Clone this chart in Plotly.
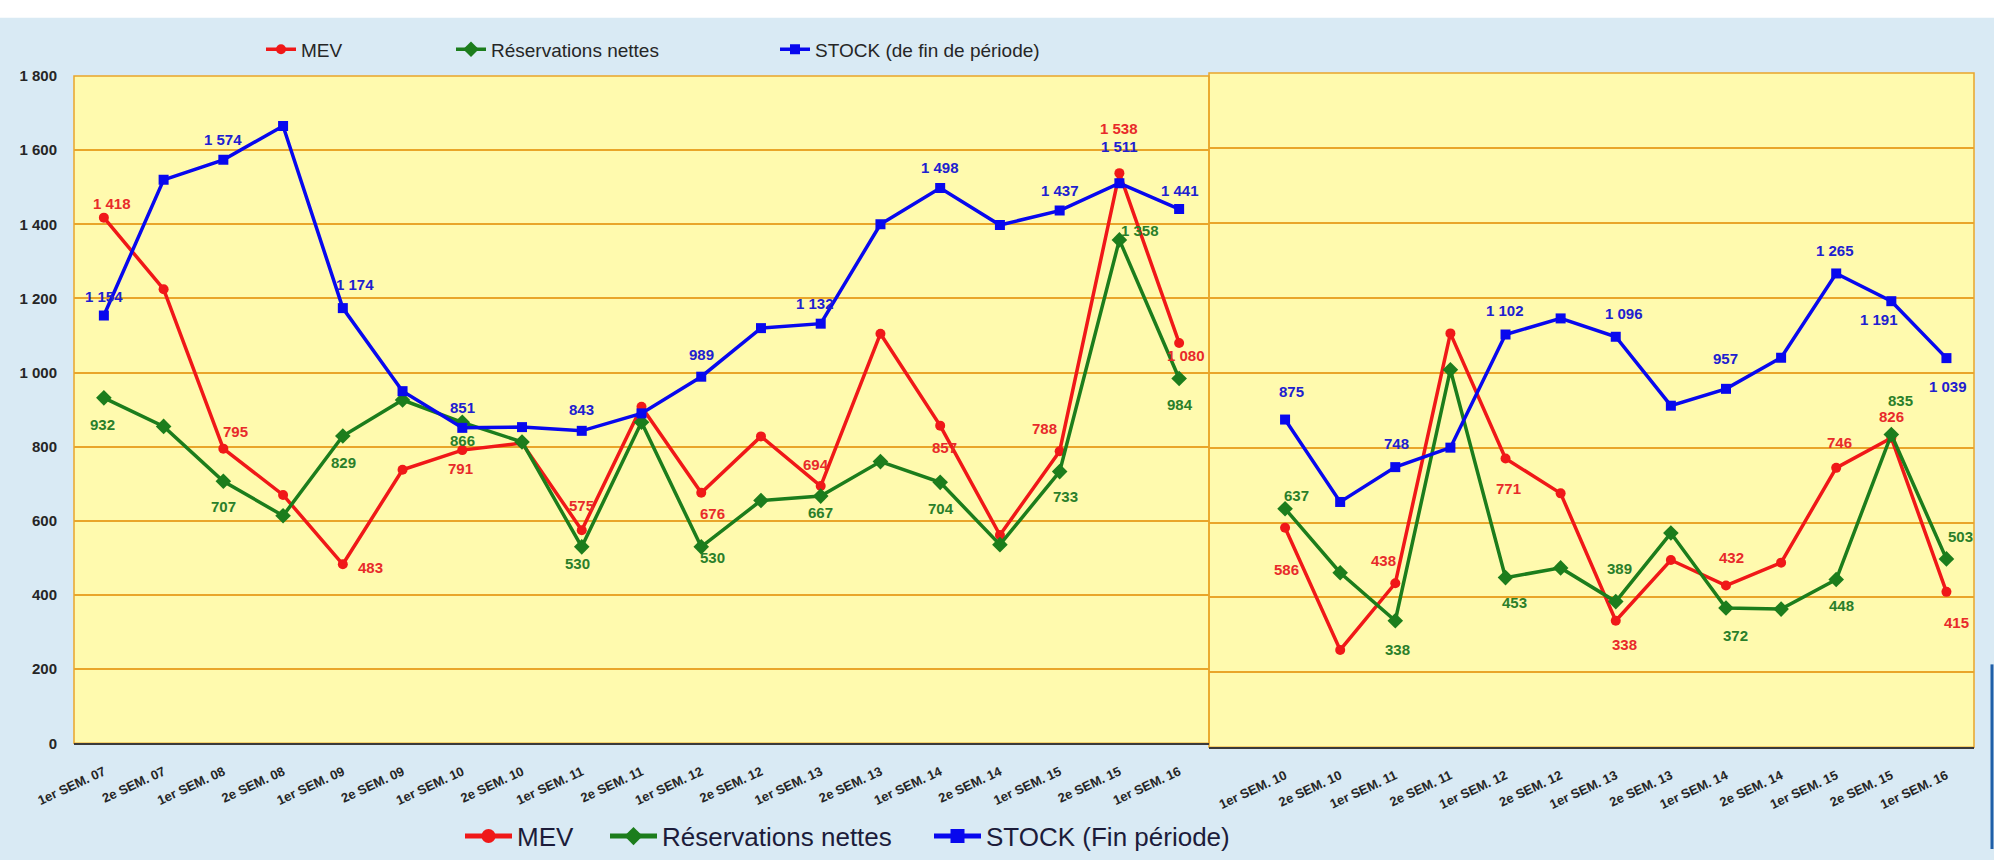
import plotly.graph_objects as go

W, H = 1994, 860

# ---------------- data ----------------
cats_left = ["1er SEM. 07", "2e SEM. 07", "1er SEM. 08", "2e SEM. 08", "1er SEM. 09", "2e SEM. 09",
             "1er SEM. 10", "2e SEM. 10", "1er SEM. 11", "2e SEM. 11", "1er SEM. 12", "2e SEM. 12",
             "1er SEM. 13", "2e SEM. 13", "1er SEM. 14", "2e SEM. 14", "1er SEM. 15", "2e SEM. 15",
             "1er SEM. 16"]
mev_left = [1418, 1225, 795, 670, 483, 738, 791, 810, 575, 908, 676, 828, 694, 1105, 857, 562, 788, 1538, 1080]
res_left = [932, 855, 707, 614, 829, 926, 866, 813, 530, 866, 530, 655, 667, 760, 704, 536, 733, 1358, 984]
stock_left = [1154, 1520, 1574, 1665, 1174, 950, 851, 853, 843, 890, 989, 1120, 1132, 1400, 1498, 1398, 1437, 1511, 1441]

cats_right = ["1er SEM. 10", "2e SEM. 10", "1er SEM. 11", "2e SEM. 11", "1er SEM. 12", "2e SEM. 12",
              "1er SEM. 13", "2e SEM. 13", "1er SEM. 14", "2e SEM. 14", "1er SEM. 15", "2e SEM. 15",
              "1er SEM. 16"]
mev_right = [586, 260, 438, 1105, 771, 678, 338, 500, 432, 493, 746, 826, 415]
res_right = [637, 466, 338, 1008, 453, 479, 389, 572, 372, 369, 448, 835, 503]
stock_right = [875, 655, 748, 800, 1102, 1145, 1096, 912, 957, 1040, 1265, 1191, 1039]

y_ticks = [0, 200, 400, 600, 800, 1000, 1200, 1400, 1600, 1800]
y_tick_text = ["0", "200", "400", "600", "800", "1 000", "1 200", "1 400", "1 600", "1 800"]

legend_top_names = ["MEV", "Réservations nettes", "STOCK (de fin de période)"]
legend_bottom_names = ["MEV", "Réservations nettes", "STOCK (Fin période)"]

# ---------------- styles ----------------
RED, GREEN, BLUE = "#f01818", "#1c7d1c", "#0808ee"
RED_T, GREEN_T, BLUE_T = "#e82a2a", "#2a7f2a", "#2020d0"
GRID = "#e9a52a"
FONT = "Liberation Sans"

# label offsets in pixels (dx right, dy down) for labelled points
lab_left = {
    "mev": {0: (8, -14), 2: (12, -17), 4: (28, 3), 6: (-2, 18), 8: (0, -25), 10: (11, 21),
            12: (-5, -22), 14: (4, 22), 16: (-15, -23), 17: (0, -45), 18: (7, 13)},
    "res": {0: (-1, 27), 2: (0, 25), 4: (1, 26), 6: (0, 18), 8: (-4, 17), 10: (11, 11),
            12: (0, 16), 14: (1, 26), 16: (6, 25), 17: (21, -9), 18: (1, 26)},
    "stock": {0: (0, -19), 2: (0, -20), 4: (12, -24), 6: (0, -20), 8: (0, -21), 10: (0, -22),
              12: (-6, -20), 14: (0, -20), 16: (0, -20), 17: (0, -37), 18: (1, -19)},
}
lab_right = {
    "mev": {0: (1, 42), 2: (-12, -23), 4: (3, 30), 6: (9, 24), 8: (6, -28), 10: (3, -25),
            11: (0, -21), 12: (10, 31)},
    "res": {0: (11, -13), 2: (2, 29), 4: (9, 25), 6: (4, -33), 8: (10, 28), 10: (5, 26),
            11: (9, -34), 12: (14, -22)},
    "stock": {0: (6, -28), 2: (1, -24), 4: (-1, -24), 6: (8, -23), 8: (0, -30), 10: (-1, -23),
              11: (-12, 18), 12: (2, 28)},
}


def fmt(v):
    return f"{v:,}".replace(",", " ")


series_style = {
    "mev": dict(color=RED, tcolor=RED_T, symbol="circle", size=10),
    "res": dict(color=GREEN, tcolor=GREEN_T, symbol="diamond", size=12),
    "stock": dict(color=BLUE, tcolor=BLUE_T, symbol="square", size=10),
}

fig = go.Figure()

left_data = {"mev": mev_left, "res": res_left, "stock": stock_left}
right_data = {"mev": mev_right, "res": res_right, "stock": stock_right}
keys = ["mev", "res", "stock"]
top_leg_ids = ["legend", "legend2", "legend3"]
bot_leg_ids = ["legend4", "legend5", "legend6"]

for i, k in enumerate(keys):
    st = series_style[k]
    fig.add_trace(go.Scatter(
        x=cats_left, y=left_data[k], xaxis="x", yaxis="y", mode="lines+markers",
        name=legend_top_names[i], legend=top_leg_ids[i], showlegend=True,
        line=dict(color=st["color"], width=3.5),
        marker=dict(symbol=st["symbol"], size=st["size"], color=st["color"]),
    ))
for i, k in enumerate(keys):
    st = series_style[k]
    fig.add_trace(go.Scatter(
        x=cats_right, y=right_data[k], xaxis="x2", yaxis="y2", mode="lines+markers",
        name=legend_bottom_names[i], showlegend=False,
        line=dict(color=st["color"], width=3.5),
        marker=dict(symbol=st["symbol"], size=st["size"], color=st["color"]),
    ))
# bottom legend entries
for i, k in enumerate(keys):
    st = series_style[k]
    fig.add_trace(go.Scatter(
        x=[None], y=[None], xaxis="x", yaxis="y", mode="lines+markers",
        name=legend_bottom_names[i], legend=bot_leg_ids[i], showlegend=True,
        line=dict(color=st["color"], width=5),
        marker=dict(symbol=st["symbol"], size=14, color=st["color"]),
    ))

annotations = []
for cats, data, labs, xr, yr in [(cats_left, left_data, lab_left, "x", "y"),
                                 (cats_right, right_data, lab_right, "x2", "y2")]:
    for k in keys:
        for idx, (dx, dy) in labs[k].items():
            annotations.append(dict(
                x=cats[idx], y=data[k][idx], xref=xr, yref=yr, text=fmt(data[k][idx]),
                showarrow=False, xshift=dx, yshift=-dy,
                font=dict(family=FONT, size=15, color=series_style[k]["tcolor"], weight="bold"),
            ))

# panel geometry (pixels)
L0, L1, R0, R1 = 74, 1209, 1209, 1974
LB, LT, RB, RT = 753, 77, 757, 74

xtick_font = dict(family=FONT, size=13, color="#262626", weight="bold")
ytick_font = dict(family=FONT, size=15, color="#262626", weight="bold")


def leg(xp, yp, size, itemwidth, color):
    return dict(x=xp / W, y=1 - yp / H, xanchor="left", yanchor="middle", orientation="h",
                bgcolor="rgba(0,0,0,0)", borderwidth=0, itemwidth=itemwidth,
                font=dict(family=FONT, size=size, color=color), itemclick=False,
                itemdoubleclick=False)


layout = dict(
    width=W, height=H,
    margin=dict(l=0, r=0, t=0, b=0),
    paper_bgcolor="#d9eaf4",
    plot_bgcolor="#fffaae",
    annotations=annotations,
    xaxis=dict(domain=[L0 / W, L1 / W], anchor="y", type="category", categoryarray=cats_left,
               range=[-0.5, 18.5], showgrid=False, showline=True, linecolor="#3a3a3a", linewidth=2,
               tickangle=-25, tickfont=xtick_font, ticks="outside", ticklen=14,
               tickcolor="rgba(0,0,0,0)", automargin=False, zeroline=False),
    yaxis=dict(domain=[1 - LB / H, 1 - LT / H], anchor="x", range=[0, 1800], tickvals=y_ticks,
               ticktext=y_tick_text, showgrid=True, gridcolor=GRID, gridwidth=1.5,
               tickfont=ytick_font, ticks="outside", ticklen=13, tickcolor="rgba(0,0,0,0)",
               zeroline=False, showline=False, automargin=False),
    xaxis2=dict(domain=[R0 / W, R1 / W], anchor="y2", type="category", categoryarray=cats_right,
                range=[-1.38, 12.5], showgrid=False, showline=True, linecolor="#3a3a3a", linewidth=2,
                tickangle=-25, tickfont=xtick_font, ticks="outside", ticklen=14,
                tickcolor="rgba(0,0,0,0)", automargin=False, zeroline=False),
    yaxis2=dict(domain=[1 - RB / H, 1 - RT / H], anchor="x2", range=[0, 1800], tickvals=y_ticks,
                showticklabels=False, showgrid=True, gridcolor=GRID, gridwidth=1.5,
                zeroline=False, showline=False, automargin=False),
    legend=leg(261, 50, 19, 30, "#262626"),
    legend2=leg(451, 50, 19, 30, "#262626"),
    legend3=leg(775, 50, 19, 30, "#262626"),
    legend4=leg(460, 847, 26, 47, "#1c1c3a"),
    legend5=leg(605, 847, 26, 47, "#1c1c3a"),
    legend6=leg(929, 847, 26, 47, "#1c1c3a"),
    shapes=[
        dict(type="rect", xref="paper", yref="paper", x0=0, x1=1, y0=1 - 18 / H, y1=1,
             fillcolor="#ffffff", line=dict(width=0), layer="below"),
        dict(type="rect", xref="x domain", yref="y domain", x0=0, x1=1, y0=0, y1=1,
             line=dict(color=GRID, width=1.5), layer="below"),
        dict(type="rect", xref="x2 domain", yref="y2 domain", x0=0, x1=1, y0=0, y1=1,
             line=dict(color=GRID, width=1.5), layer="below"),
        dict(type="line", xref="paper", yref="paper", x0=1992 / W, x1=1992 / W,
             y0=0, y1=1 - 673 / H, line=dict(color="#1f5fa8", width=3)),
    ],
    showlegend=True,
)
fig.update_layout(**layout)
fig.write_html("out.html")
